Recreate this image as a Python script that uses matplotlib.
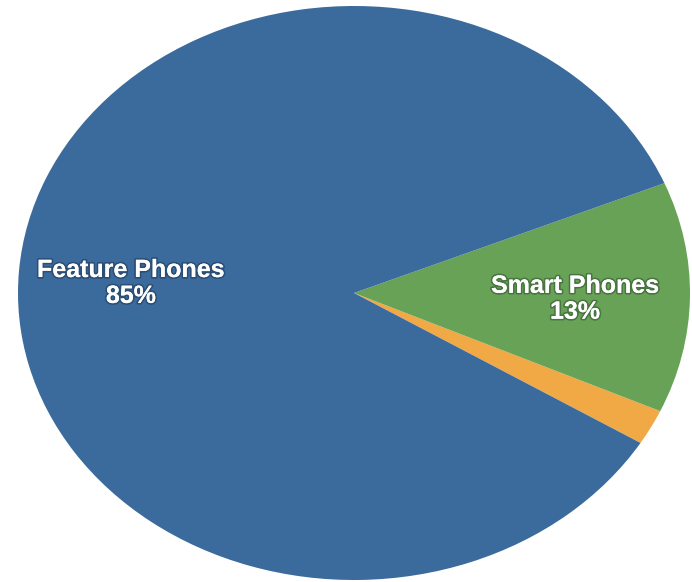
import matplotlib
matplotlib.use("Agg")
import matplotlib.pyplot as plt
import matplotlib.patheffects as pe

categories = ["Other", "Smart Phones", "Feature Phones"]
values = [2, 13, 85]
colors = ["#F0A945", "#67A257", "#3B6A9C"]
label_texts = ["Smart Phones\n13%", "Feature Phones\n85%"]

fig = plt.figure(figsize=(6.92, 5.82), dpi=100)
ax = fig.add_axes([18/692, 2/582, 672/692, 574/582])
wedges, _ = ax.pie(values, colors=colors, startangle=-31.5, counterclock=True,
                   radius=1, center=(0, 0), wedgeprops=dict(linewidth=0))
ax.set_aspect('auto')
ax.set_xlim(-1, 1)
ax.set_ylim(-1, 1)
ax.axis('off')

ax.text(0.658, -0.02, label_texts[0], ha='center', va='center', color='white',
        fontsize=18, fontweight='bold', family='Liberation Sans', linespacing=1.1,
        path_effects=[pe.withStroke(linewidth=2.5, foreground='#2c4a2a', alpha=0.5), pe.Normal()])
ax.text(-0.664, 0.035, label_texts[1], ha='center', va='center', color='white',
        fontsize=18, fontweight='bold', family='Liberation Sans', linespacing=1.1,
        path_effects=[pe.withStroke(linewidth=2.5, foreground='#1c3350', alpha=0.5), pe.Normal()])

fig.savefig("out.png", dpi=100)
